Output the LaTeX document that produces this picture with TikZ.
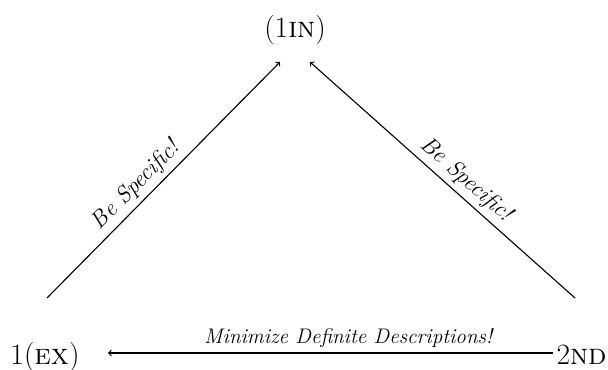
\documentclass[tikz,border=0pt]{standalone}
\tikzset{
	obj/.style = {anchor=base, inner sep=3pt, font=\fontsize{21}{25}\selectfont},
	lab/.style = {font=\fontsize{16.5}{19}\selectfont\itshape},
	arr/.style = {->, line width=0.8pt}
}

\begin{document}
\begin{tikzpicture}
	\useasboundingbox (0,0) rectangle (15.2,9.225);
	\node [obj] (in) at (7.375,8.3) {(1\textsc{in})};
	\node [obj] (ex) at (1.125,0.125) {1(\textsc{ex})};
	\node [obj] (nd) at (14.54,0.125) {2\textsc{nd}};
	\draw [arr] ([shift={(0.05,1.65)}]ex.base) -- ([shift={(-0.375,-0.625)}]in.base) node[pos=0.43, sloped, above, lab]{Be Specific!};
	\draw [arr] ([shift={(-0.165,1.65)}]nd.base) -- ([shift={(0.375,-0.625)}]in.base) node[pos=0.45, sloped, above, lab]{Be Specific!};
	\draw [arr] ([shift={(-0.715,0.275)}]nd.base) -- ([shift={(1.575,0.275)}]ex.base) node[pos=0.46, above, lab, font=\fontsize{15}{18}\selectfont\itshape]{Minimize Definite Descriptions!};
\end{tikzpicture}
\end{document}
